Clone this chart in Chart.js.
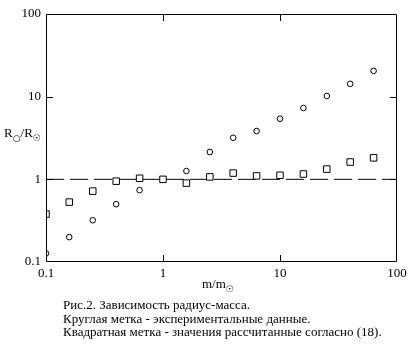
<!DOCTYPE html>
<html>
<head>
<meta charset="utf-8">
<script src="https://cdn.jsdelivr.net/npm/chart.js@4"></script>
<style>
  body { margin: 0; background: #fff; }
  #wrap { position: relative; width: 418px; height: 352px; font-family: "Liberation Serif", "DejaVu Serif", serif; color: #000; }
  #wrap canvas { position: absolute; left: 0; top: 0; }
  .lbl { position: absolute; font-size: 13px; white-space: nowrap; line-height: 1; }
  .lbl sub { font-size: 9px; vertical-align: -4px; font-family: "DejaVu Sans", sans-serif; }
  #caption { position: absolute; left: 63px; top: 298px; font-size: 13px; line-height: 13.5px; white-space: nowrap; }
</style>
</head>
<body>
<div id="wrap">
  <canvas id="chartRM" width="418" height="352"></canvas>
  <div class="lbl" style="left:4px; top:126px;">R<sub>○</sub>/R<sub>☉</sub></div>
  <div class="lbl" style="left:202px; top:277px;">m/m<sub>☉</sub></div>
  <div id="caption">
    Рис.2. Зависимость радиус-масса.<br>
    Круглая метка - экспериментальные данные.<br>
    Квадратная метка - значения рассчитанные согласно (18).
  </div>
</div>
<script>
// масса (в массах Солнца)
const masses = [0.1, 0.158, 0.251, 0.398, 0.631, 1, 1.585, 2.512, 3.981, 6.31, 10, 15.85, 25.12, 39.81, 63.1];
// круглая метка - эксперимент
const radiusExp = [0.127, 0.20, 0.32, 0.50, 0.74, 1.0, 1.26, 2.14, 3.18, 3.84, 5.41, 7.3, 10.2, 14.3, 20.5];
// квадратная метка - расчет по (18)
const radiusCalc = [0.38, 0.53, 0.72, 0.95, 1.03, 1.0, 0.90, 1.07, 1.19, 1.10, 1.12, 1.16, 1.33, 1.62, 1.82];
// уровень R = 1
const refLine = [{x: 0.1, y: 1}, {x: 100, y: 1}];
const tickValues = [0.1, 1, 10, 100];

function toPoints(xs, ys) {
    return xs.map(function (m, i) { return {x: m, y: ys[i]}; });
}

// рамка и внутренние засечки
const framePlugin = {
    id: 'frame',
    afterDatasetsDraw(chart) {
        const ctx = chart.ctx;
        const a = chart.chartArea;
        const sx = chart.scales.x, sy = chart.scales.y;
        ctx.save();
        ctx.strokeStyle = '#000';
        ctx.lineWidth = 1;
        ctx.beginPath();
        ctx.rect(Math.round(a.left) + 0.5, Math.round(a.top) + 0.5, Math.round(a.width) - 1, Math.round(a.height) - 1);
        [1, 10].forEach(function (v) {
            const px = Math.round(sx.getPixelForValue(v)) + 0.5;
            ctx.moveTo(px, a.bottom); ctx.lineTo(px, a.bottom - 7);
            ctx.moveTo(px, a.top); ctx.lineTo(px, a.top + 7);
            const py = Math.round(sy.getPixelForValue(v)) + 0.5;
            ctx.moveTo(a.left, py); ctx.lineTo(a.left + 7, py);
            ctx.moveTo(a.right, py); ctx.lineTo(a.right - 7, py);
        });
        ctx.stroke();
        ctx.restore();
    }
};

document.addEventListener('DOMContentLoaded', function () {
    var ctx = document.getElementById('chartRM').getContext('2d');
    new Chart(ctx, {
        type: 'scatter',
        data: {
            datasets: [{
                label: 'расчет',
                data: toPoints(masses, radiusCalc),
                pointStyle: 'rect',
                pointRadius: 4.6,
                borderColor: '#000',
                backgroundColor: '#fff',
                borderWidth: 1,
                clip: 0,
                order: 0
            }, {
                label: 'эксперимент',
                data: toPoints(masses, radiusExp),
                pointStyle: 'circle',
                pointRadius: 2.8,
                borderColor: '#000',
                backgroundColor: '#fff',
                borderWidth: 1,
                clip: 0,
                order: 1
            }, {
                type: 'line',
                label: 'R=1',
                data: refLine,
                borderColor: '#000',
                borderWidth: 1,
                borderDash: [18, 6],
                pointRadius: 0,
                clip: 0,
                order: 2
            }]
        },
        options: {
            responsive: false,
            devicePixelRatio: 1,
            animation: false,
            events: [],
            layout: { padding: { top: 14, right: 21, left: 0, bottom: 0 } },
            plugins: { legend: { display: false }, tooltip: { enabled: false } },
            scales: {
                x: {
                    type: 'logarithmic',
                    min: 0.1, max: 100,
                    afterBuildTicks: function (s) { s.ticks = tickValues.map(function (v) { return {value: v}; }); },
                    afterFit: function (s) { s.height = 90; },
                    grid: { display: false, drawTicks: false },
                    border: { display: false },
                    ticks: {
                        color: '#000', padding: 4, maxRotation: 0,
                        font: { family: 'Liberation Serif', size: 13 },
                        callback: function (v) { return String(v); }
                    }
                },
                y: {
                    type: 'logarithmic',
                    min: 0.1, max: 100,
                    afterBuildTicks: function (s) { s.ticks = tickValues.map(function (v) { return {value: v}; }); },
                    afterFit: function (s) { s.width = 46; },
                    grid: { display: false, drawTicks: false },
                    border: { display: false },
                    ticks: {
                        color: '#000', padding: 5,
                        font: { family: 'Liberation Serif', size: 13 },
                        callback: function (v) { return String(v); }
                    }
                }
            }
        },
        plugins: [framePlugin]
    });
});
</script>
</body>
</html>
